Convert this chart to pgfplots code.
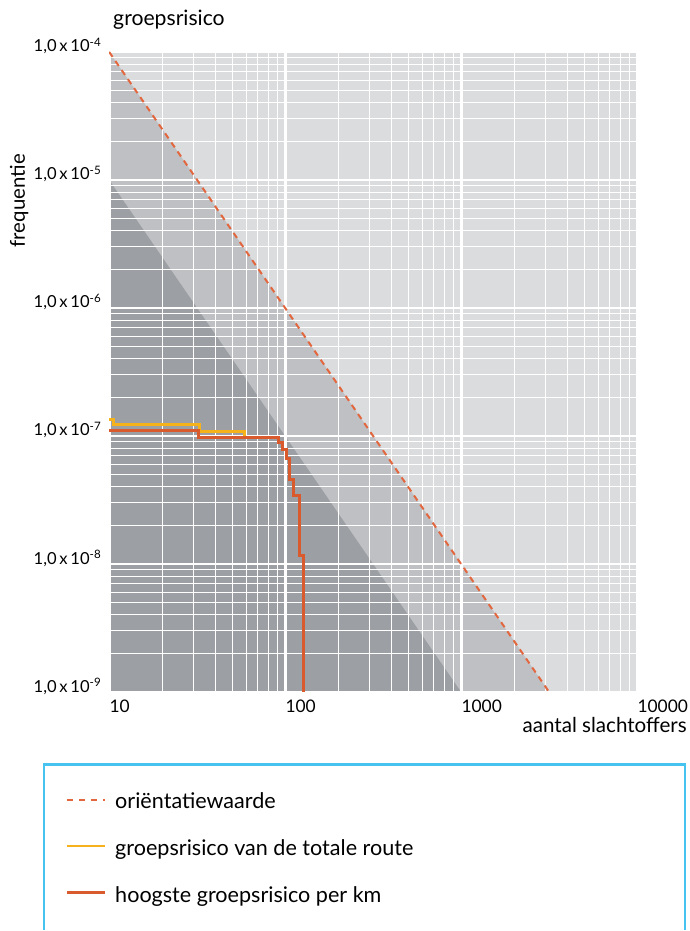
\documentclass[border=0pt]{standalone}
\usepackage{pgfplots}
\pgfplotsset{compat=1.18}
\usepackage{fontspec}
\setmainfont{Lato}
\definecolor{cLight}{RGB}{219,220,222}
\definecolor{cMid}{RGB}{190,192,195}
\definecolor{cDark}{RGB}{156,160,164}
\definecolor{cOrange}{RGB}{245,178,27}
\definecolor{cRed}{RGB}{217,91,45}
\definecolor{cDash}{RGB}{226,103,63}
\definecolor{cCyan}{RGB}{70,196,239}
\begin{document}
\begin{tikzpicture}
\path (0,0) rectangle (345pt,465.5pt);
\begin{axis}[
  at={(54.65pt,119pt)}, anchor=south west,
  scale only axis, width=264.35pt, height=320.5pt,
  xmode=log, ymode=log,
  xmin=10, xmax=10000, ymin=1e-9, ymax=1e-4,
  xtick={10,100,1000,10000}, xticklabels={10,100,1000,10000},
  minor xtick={20,30,40,50,60,70,80,90,200,300,400,500,600,700,800,900,2000,3000,4000,5000,6000,7000,8000,9000},
  ytick={1e-9,1e-8,1e-7,1e-6,1e-5,1e-4},
  yticklabels={{1,0\,x\,10\textsuperscript{-9}},{1,0\,x\,10\textsuperscript{-8}},{1,0\,x\,10\textsuperscript{-7}},{1,0\,x\,10\textsuperscript{-6}},{1,0\,x\,10\textsuperscript{-5}},{1,0\,x\,10\textsuperscript{-4}}},
  minor ytick={2e-9,3e-9,4e-9,5e-9,6e-9,7e-9,8e-9,9e-9,2e-8,3e-8,4e-8,5e-8,6e-8,7e-8,8e-8,9e-8,2e-7,3e-7,4e-7,5e-7,6e-7,7e-7,8e-7,9e-7,2e-6,3e-6,4e-6,5e-6,6e-6,7e-6,8e-6,9e-6,2e-5,3e-5,4e-5,5e-5,6e-5,7e-5,8e-5,9e-5},
  grid=both,
  major grid style={white, line width=1.4pt},
  minor grid style={white, line width=0.5pt},
  axis line style={draw=none},
  major tick length=0pt, minor tick length=0pt,
  set layers,
  xticklabel style={anchor=north west, inner sep=0pt, yshift=-3.5pt, font=\fontsize{8.7}{10}\selectfont},
  yticklabel style={anchor=base east, inner sep=0pt, xshift=-3.5pt, font=\fontsize{8.3}{10}\selectfont},
]
\addplot[fill=cLight, draw=none, on layer=axis background] coordinates {(10,1e-9) (10000,1e-9) (10000,1e-4) (10,1e-4)} -- cycle;
\addplot[fill=cMid, draw=none, on layer=axis background] coordinates {(10,1e-4) (3162.28,1e-9) (10,1e-9)} -- cycle;
\addplot[fill=cDark, draw=none, on layer=axis background] coordinates {(10,1e-5) (1000,1e-9) (10,1e-9)} -- cycle;
\addplot[cDash, line width=1pt, dash pattern=on 3pt off 2.5pt] coordinates {(10,1e-4) (3162.28,1e-9)};
\addplot[cOrange, line width=1.5pt] coordinates {(10,1.34e-7) (10.6,1.34e-7) (10.6,1.23e-7) (32.5,1.23e-7) (32.5,1.08e-7) (59,1.08e-7) (59,1.0e-7)};
\addplot[cRed, line width=1.5pt] coordinates {(10,1.1e-7) (32,1.1e-7) (32,9.7e-8) (91.5,9.7e-8) (91.5,8.9e-8) (96.5,8.9e-8) (96.5,7.8e-8) (101.5,7.8e-8) (101.5,6.7e-8) (106.5,6.7e-8) (106.5,4.6e-8) (111.5,4.6e-8) (111.5,3.45e-8) (120,3.45e-8) (120,1.16e-8) (126.5,1.16e-8) (126.5,1e-9)};
\end{axis}
\node[anchor=base west, inner sep=0pt, font=\fontsize{10.6}{12}\selectfont] at (56.5pt,452.5pt) {groepsrisico};
\node[anchor=base, rotate=90, inner sep=0pt, font=\fontsize{10.2}{12}\selectfont] at (12.5pt,365pt) {frequentie};
\node[anchor=base east, inner sep=0pt, font=\fontsize{10.3}{12}\selectfont] at (344pt,98.5pt) {aantal slachtoffers};
\draw[cCyan, line width=1.3pt] (22pt,0pt) -- (22pt,82.75pt) -- (343pt,82.75pt) -- (343pt,0pt);
\draw[cDash, line width=0.9pt, dash pattern=on 3pt off 3pt] (33.5pt,65pt) -- (52.5pt,65pt);
\draw[cOrange, line width=1.3pt] (33.5pt,42pt) -- (52.5pt,42pt);
\draw[cRed, line width=1.3pt] (33.5pt,18.5pt) -- (52.5pt,18.5pt);
\node[anchor=base west, inner sep=0pt, font=\fontsize{10.8}{12}\selectfont] at (57.5pt,60.5pt) {oriëntatiewaarde};
\node[anchor=base west, inner sep=0pt, font=\fontsize{10.8}{12}\selectfont] at (57.5pt,37pt) {groepsrisico van de totale route};
\node[anchor=base west, inner sep=0pt, font=\fontsize{10.8}{12}\selectfont] at (57.5pt,13.5pt) {hoogste groepsrisico per km};
\end{tikzpicture}
\end{document}
